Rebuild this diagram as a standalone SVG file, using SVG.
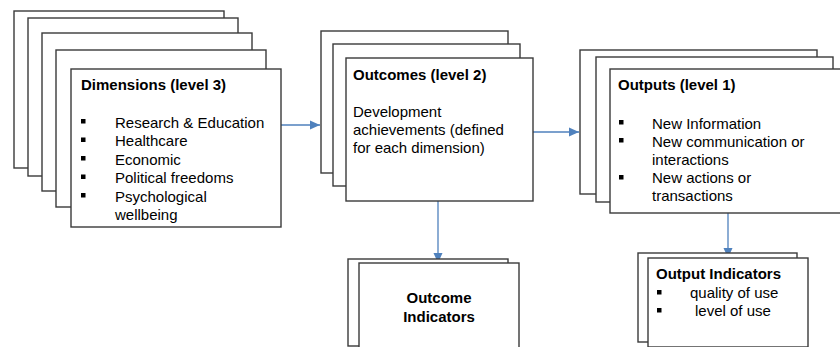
<svg xmlns="http://www.w3.org/2000/svg" width="840" height="347" viewBox="0 0 840 347">
<style>
.box{fill:#fff;stroke:#3a3a3a;stroke-width:1.4}
.t{font-family:"Liberation Sans",Arial,sans-serif;font-size:15px;fill:#000}
.b{font-weight:bold}
.bul{fill:#000}
.con{stroke:#4f81bd;stroke-width:1.3;fill:none}
</style>
<defs>
<marker id="ah" markerUnits="userSpaceOnUse" markerWidth="10" markerHeight="10" viewBox="0 0 10 10" refX="10" refY="5" orient="auto">
<path d="M0,0.5 L10,5 L0,9.5 Z" fill="#4f81bd"/>
</marker>
</defs>
<rect width="840" height="347" fill="#fff"/>

<g id="connectors">
<line class="con" x1="281" y1="125" x2="320" y2="125" marker-end="url(#ah)"/>
<line class="con" x1="533" y1="132" x2="579" y2="132" marker-end="url(#ah)"/>
<line class="con" x1="438" y1="201" x2="438" y2="263" marker-end="url(#ah)"/>
<line class="con" x1="728" y1="213" x2="728" y2="258" marker-end="url(#ah)"/>
</g>

<g id="dimensions">
<rect class="box" x="14" y="11" width="210" height="157"/>
<rect class="box" x="28" y="18" width="210" height="158"/>
<rect class="box" x="42" y="33" width="210" height="158"/>
<rect class="box" x="56" y="50" width="210" height="157"/>
<rect class="box" x="71" y="69" width="210" height="158"/>
<text class="t b" x="81" y="90">Dimensions (level 3)</text>
<rect class="bul" x="81" y="119" width="4.5" height="4.5"/>
<rect class="bul" x="81" y="137.5" width="4.5" height="4.5"/>
<rect class="bul" x="81" y="156" width="4.5" height="4.5"/>
<rect class="bul" x="81" y="174.5" width="4.5" height="4.5"/>
<rect class="bul" x="81" y="193" width="4.5" height="4.5"/>
<text class="t" x="115" y="127.5">Research &amp; Education</text>
<text class="t" x="115" y="146">Healthcare</text>
<text class="t" x="115" y="164.5">Economic</text>
<text class="t" x="115" y="183">Political freedoms</text>
<text class="t" x="115" y="201.5">Psychological</text>
<text class="t" x="115" y="220">wellbeing</text>
</g>

<g id="outcomes">
<rect class="box" x="321" y="31" width="187" height="142"/>
<rect class="box" x="333" y="44" width="187" height="142"/>
<rect class="box" x="346" y="58" width="187" height="143"/>
<text class="t b" x="353" y="80">Outcomes (level 2)</text>
<text class="t" x="353" y="117">Development</text>
<text class="t" x="353" y="135">achievements (defined</text>
<text class="t" x="353" y="153">for each dimension)</text>
</g>

<g id="outputs">
<rect class="box" x="580" y="50" width="237" height="144"/>
<rect class="box" x="596" y="57" width="237" height="145"/>
<rect class="box" x="610" y="69" width="240" height="144"/>
<text class="t b" x="618" y="90">Outputs (level 1)</text>
<rect class="bul" x="619" y="120" width="4.5" height="4.5"/>
<rect class="bul" x="619" y="138" width="4.5" height="4.5"/>
<rect class="bul" x="619" y="175" width="4.5" height="4.5"/>
<text class="t" x="652" y="128.5">New Information</text>
<text class="t" x="652" y="146.5">New communication or</text>
<text class="t" x="652" y="164.5">interactions</text>
<text class="t" x="652" y="183">New actions or</text>
<text class="t" x="652" y="201">transactions</text>
</g>

<g id="outcome-indicators">
<rect class="box" x="348" y="259" width="160" height="87"/>
<rect class="box" x="359" y="263" width="160" height="90"/>
<text class="t b" x="439" y="303" text-anchor="middle">Outcome</text>
<text class="t b" x="439" y="322" text-anchor="middle">Indicators</text>
</g>

<g id="output-indicators">
<rect class="box" x="638" y="253" width="159" height="89"/>
<rect class="box" x="648" y="258" width="160" height="89"/>
<text class="t b" x="656" y="279">Output Indicators</text>
<rect class="bul" x="657" y="290" width="4.5" height="4.5"/>
<rect class="bul" x="657" y="308" width="4.5" height="4.5"/>
<text class="t" x="690" y="298">quality of use</text>
<text class="t" x="695" y="316">level of use</text>
</g>
</svg>
